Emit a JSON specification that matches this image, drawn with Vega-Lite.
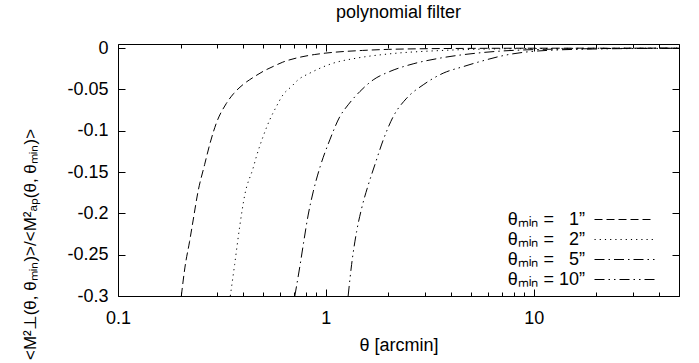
{
  "$schema": "https://vega.github.io/schema/vega-lite/v6.json",
  "width": 561,
  "height": 252,
  "autosize": {"type": "none"},
  "padding": {"left": 118, "top": 44, "right": 20, "bottom": 67},
  "background": "white",
  "title": {"text": "polynomial filter", "font": "Liberation Sans", "fontSize": 18, "fontWeight": "normal", "color": "black", "baseline": "alphabetic", "offset": 3, "anchor": "middle"},
  "config": {
    "view": {"stroke": "black", "strokeWidth": 1},
    "axis": {"domain": false, "grid": false, "tickColor": "black", "tickWidth": 1, "labelFont": "Liberation Sans", "labelFontSize": 18, "labelColor": "black", "titleFont": "Liberation Sans", "titleFontSize": 18, "titleFontWeight": "normal", "titleColor": "black", "labelFlush": false, "labelOverlap": false}
  },
  "data": {
    "values": [
      {"series": "θₘᵢₙ = \u20071”", "theta": 0.2017, "ratio": -0.3},
      {"series": "θₘᵢₙ = \u20071”", "theta": 0.21, "ratio": -0.265},
      {"series": "θₘᵢₙ = \u20071”", "theta": 0.221, "ratio": -0.234},
      {"series": "θₘᵢₙ = \u20071”", "theta": 0.23, "ratio": -0.208},
      {"series": "θₘᵢₙ = \u20071”", "theta": 0.2425, "ratio": -0.174},
      {"series": "θₘᵢₙ = \u20071”", "theta": 0.261, "ratio": -0.141},
      {"series": "θₘᵢₙ = \u20071”", "theta": 0.278, "ratio": -0.114},
      {"series": "θₘᵢₙ = \u20071”", "theta": 0.297, "ratio": -0.091},
      {"series": "θₘᵢₙ = \u20071”", "theta": 0.332, "ratio": -0.067},
      {"series": "θₘᵢₙ = \u20071”", "theta": 0.36, "ratio": -0.055},
      {"series": "θₘᵢₙ = \u20071”", "theta": 0.4, "ratio": -0.044},
      {"series": "θₘᵢₙ = \u20071”", "theta": 0.45, "ratio": -0.035},
      {"series": "θₘᵢₙ = \u20071”", "theta": 0.5, "ratio": -0.028},
      {"series": "θₘᵢₙ = \u20071”", "theta": 0.56, "ratio": -0.022},
      {"series": "θₘᵢₙ = \u20071”", "theta": 0.62, "ratio": -0.017},
      {"series": "θₘᵢₙ = \u20071”", "theta": 0.75, "ratio": -0.011},
      {"series": "θₘᵢₙ = \u20071”", "theta": 0.88, "ratio": -0.0078},
      {"series": "θₘᵢₙ = \u20071”", "theta": 1.0, "ratio": -0.006},
      {"series": "θₘᵢₙ = \u20071”", "theta": 1.5, "ratio": -0.0028},
      {"series": "θₘᵢₙ = \u20071”", "theta": 2, "ratio": -0.0015},
      {"series": "θₘᵢₙ = \u20071”", "theta": 3, "ratio": -0.0007},
      {"series": "θₘᵢₙ = \u20071”", "theta": 5, "ratio": -0.0003},
      {"series": "θₘᵢₙ = \u20071”", "theta": 10, "ratio": -0.0001},
      {"series": "θₘᵢₙ = \u20071”", "theta": 50, "ratio": 0},

      {"series": "θₘᵢₙ = \u20072”", "theta": 0.347, "ratio": -0.3},
      {"series": "θₘᵢₙ = \u20072”", "theta": 0.364, "ratio": -0.262},
      {"series": "θₘᵢₙ = \u20072”", "theta": 0.385, "ratio": -0.216},
      {"series": "θₘᵢₙ = \u20072”", "theta": 0.407, "ratio": -0.178},
      {"series": "θₘᵢₙ = \u20072”", "theta": 0.447, "ratio": -0.145},
      {"series": "θₘᵢₙ = \u20072”", "theta": 0.4635, "ratio": -0.131},
      {"series": "θₘᵢₙ = \u20072”", "theta": 0.499, "ratio": -0.107},
      {"series": "θₘᵢₙ = \u20072”", "theta": 0.537, "ratio": -0.0868},
      {"series": "θₘᵢₙ = \u20072”", "theta": 0.578, "ratio": -0.0707},
      {"series": "θₘᵢₙ = \u20072”", "theta": 0.622, "ratio": -0.0565},
      {"series": "θₘᵢₙ = \u20072”", "theta": 0.683, "ratio": -0.0465},
      {"series": "θₘᵢₙ = \u20072”", "theta": 0.735, "ratio": -0.0384},
      {"series": "θₘᵢₙ = \u20072”", "theta": 0.837, "ratio": -0.0303},
      {"series": "θₘᵢₙ = \u20072”", "theta": 1.085, "ratio": -0.0182},
      {"series": "θₘᵢₙ = \u20072”", "theta": 1.406, "ratio": -0.0121},
      {"series": "θₘᵢₙ = \u20072”", "theta": 2.03, "ratio": -0.0069},
      {"series": "θₘᵢₙ = \u20072”", "theta": 3.5, "ratio": -0.003},
      {"series": "θₘᵢₙ = \u20072”", "theta": 5, "ratio": -0.0015},
      {"series": "θₘᵢₙ = \u20072”", "theta": 10, "ratio": -0.0005},
      {"series": "θₘᵢₙ = \u20072”", "theta": 50, "ratio": 0},

      {"series": "θₘᵢₙ = \u20075”", "theta": 0.709, "ratio": -0.3},
      {"series": "θₘᵢₙ = \u20075”", "theta": 0.75, "ratio": -0.264},
      {"series": "θₘᵢₙ = \u20075”", "theta": 0.783, "ratio": -0.234},
      {"series": "θₘᵢₙ = \u20075”", "theta": 0.822, "ratio": -0.202},
      {"series": "θₘᵢₙ = \u20075”", "theta": 0.869, "ratio": -0.174},
      {"series": "θₘᵢₙ = \u20075”", "theta": 0.94, "ratio": -0.143},
      {"series": "θₘᵢₙ = \u20075”", "theta": 1.045, "ratio": -0.111},
      {"series": "θₘᵢₙ = \u20075”", "theta": 1.168, "ratio": -0.0828},
      {"series": "θₘᵢₙ = \u20075”", "theta": 1.28, "ratio": -0.0686},
      {"series": "θₘᵢₙ = \u20075”", "theta": 1.458, "ratio": -0.0525},
      {"series": "θₘᵢₙ = \u20075”", "theta": 1.69, "ratio": -0.0384},
      {"series": "θₘᵢₙ = \u20075”", "theta": 2.03, "ratio": -0.0283},
      {"series": "θₘᵢₙ = \u20075”", "theta": 2.63, "ratio": -0.019},
      {"series": "θₘᵢₙ = \u20075”", "theta": 3.54, "ratio": -0.0121},
      {"series": "θₘᵢₙ = \u20075”", "theta": 5.3, "ratio": -0.0061},
      {"series": "θₘᵢₙ = \u20075”", "theta": 7, "ratio": -0.0035},
      {"series": "θₘᵢₙ = \u20075”", "theta": 10, "ratio": -0.0018},
      {"series": "θₘᵢₙ = \u20075”", "theta": 20, "ratio": -0.0006},
      {"series": "θₘᵢₙ = \u20075”", "theta": 50, "ratio": -0.0001},

      {"series": "θₘᵢₙ = 10”", "theta": 1.28, "ratio": -0.3},
      {"series": "θₘᵢₙ = 10”", "theta": 1.33, "ratio": -0.262},
      {"series": "θₘᵢₙ = 10”", "theta": 1.406, "ratio": -0.222},
      {"series": "θₘᵢₙ = 10”", "theta": 1.486, "ratio": -0.194},
      {"series": "θₘᵢₙ = 10”", "theta": 1.6, "ratio": -0.1655},
      {"series": "θₘᵢₙ = 10”", "theta": 1.722, "ratio": -0.141},
      {"series": "θₘᵢₙ = 10”", "theta": 1.889, "ratio": -0.111},
      {"series": "θₘᵢₙ = 10”", "theta": 2.11, "ratio": -0.0828},
      {"series": "θₘᵢₙ = 10”", "theta": 2.45, "ratio": -0.0605},
      {"series": "θₘᵢₙ = 10”", "theta": 2.94, "ratio": -0.0444},
      {"series": "θₘᵢₙ = 10”", "theta": 3.67, "ratio": -0.0303},
      {"series": "θₘᵢₙ = 10”", "theta": 4.59, "ratio": -0.0223},
      {"series": "θₘᵢₙ = 10”", "theta": 5.53, "ratio": -0.0162},
      {"series": "θₘᵢₙ = 10”", "theta": 7.15, "ratio": -0.009},
      {"series": "θₘᵢₙ = 10”", "theta": 10.4, "ratio": -0.0035},
      {"series": "θₘᵢₙ = 10”", "theta": 20, "ratio": -0.001},
      {"series": "θₘᵢₙ = 10”", "theta": 50, "ratio": -0.0002}
    ]
  },
  "layer": [
    {
      "mark": {"type": "line", "interpolate": "monotone", "strokeWidth": 1, "color": "black", "clip": true},
      "encoding": {
        "x": {
          "field": "theta", "type": "quantitative",
          "scale": {"type": "log", "domain": [0.1, 50], "nice": false},
          "axis": {
            "orient": "bottom",
            "values": [0.1, 0.2, 0.3, 0.4, 0.5, 0.6, 0.7, 0.8, 0.9, 1, 2, 3, 4, 5, 6, 7, 8, 9, 10, 20, 30, 40, 50],
            "labelExpr": "datum.value == 0.1 || datum.value == 1 || datum.value == 10 ? '' + datum.value : ''",
            "tickSize": {"condition": {"test": "datum.value == 0.1 || datum.value == 1 || datum.value == 10", "value": -7}, "value": -4},
            "labelPadding": 20,
            "title": "θ [arcmin]",
            "titleY": 49,
            "titleBaseline": "middle"
          }
        },
        "y": {
          "field": "ratio", "type": "quantitative",
          "scale": {"domain": [-0.3, 0.005], "nice": false, "zero": false},
          "axis": {
            "orient": "left",
            "values": [-0.3, -0.25, -0.2, -0.15, -0.1, -0.05, 0],
            "labelExpr": "'' + datum.value",
            "tickSize": -7,
            "labelPadding": 17,
            "title": "<M²⊥(θ, θₘᵢₙ)>/<M²ₐₚ(θ, θₘᵢₙ)>",
            "titleFontSize": 17,
            "titleX": -88,
            "titleY": 200,
            "titleBaseline": "middle",
            "titleAngle": -90
          }
        },
        "strokeDash": {
          "field": "series", "type": "nominal",
          "scale": {
            "domain": ["θₘᵢₙ = \u20071”", "θₘᵢₙ = \u20072”", "θₘᵢₙ = \u20075”", "θₘᵢₙ = 10”"],
            "range": [[8, 4], [1.2, 4], [10, 4, 1.5, 4], [10, 4, 1.5, 4, 1.5, 4]]
          },
          "legend": {
            "orient": "none", "legendX": 496, "legendY": 165, "title": null, "padding": 0,
            "symbolType": "M-3,0H3", "symbolSize": 400, "symbolStrokeWidth": 1, "symbolStrokeColor": "black", "symbolFillColor": "transparent",
            "rowPadding": 0,
            "labelAlign": "right", "labelOffset": -50, "labelBaseline": "middle",
            "labelFont": "Liberation Sans", "labelFontSize": 18, "labelColor": "black", "labelLimit": 0
          }
        }
      }
    },
    {
      "mark": {"type": "point", "opacity": 0},
      "encoding": {
        "x": {
          "field": "theta", "type": "quantitative",
          "axis": {
            "orient": "top", "labels": false, "title": null,
            "values": [0.1, 0.2, 0.3, 0.4, 0.5, 0.6, 0.7, 0.8, 0.9, 1, 2, 3, 4, 5, 6, 7, 8, 9, 10, 20, 30, 40, 50],
            "tickSize": {"condition": {"test": "datum.value == 0.1 || datum.value == 1 || datum.value == 10", "value": -7}, "value": -4}
          }
        },
        "y": {
          "field": "ratio", "type": "quantitative",
          "axis": {
            "orient": "right", "labels": false, "title": null,
            "values": [-0.3, -0.25, -0.2, -0.15, -0.1, -0.05, 0],
            "tickSize": -7
          }
        }
      }
    }
  ],
  "resolve": {"axis": {"x": "independent", "y": "independent"}}
}
